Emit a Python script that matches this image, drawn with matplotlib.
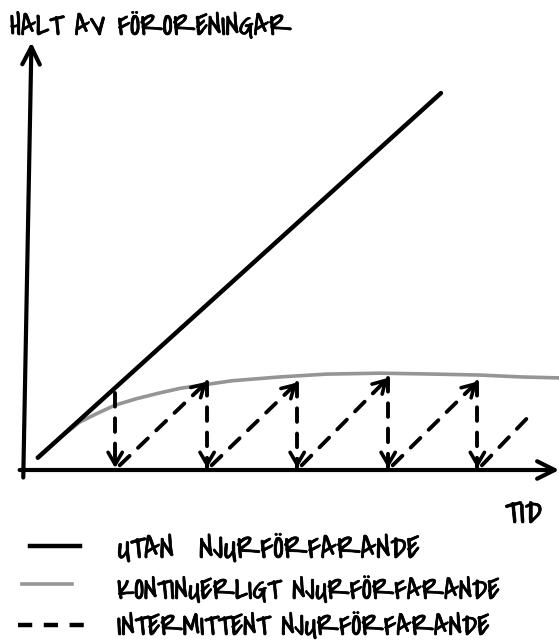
import matplotlib
matplotlib.use("Agg")
import matplotlib.pyplot as plt
from matplotlib.lines import Line2D
import matplotlib.patheffects as pe
import warnings
warnings.filterwarnings("ignore")

# ---- data (time in dosing intervals, concentration relative to plateau) ----
solid_t = [0.13, 4.56]
solid_c = [0.13, 4.01]

gray_t = [0.13, 0.37, 0.59, 0.80, 0.98, 1.22, 1.47, 1.70, 1.91, 2.27, 2.79, 3.30, 3.89, 4.50, 4.99, 5.44, 5.85]
gray_c = [0.14, 0.34, 0.51, 0.61, 0.69, 0.76, 0.82, 0.87, 0.90, 0.95, 0.99, 1.02, 1.03, 1.02, 1.01, 0.99, 0.98]

dose_t = [0.98, 1.99, 2.98, 3.98, 4.96]
peak_c = [0.82, 0.94, 0.93, 0.98, 0.94]
last_rise_end = (5.54, 0.585)

title = "HALT AV FÖRORENINGAR"
xlabel = "TID"
legend_labels = ["UTAN  NJURFÖRFARANDE",
                 "KONTINUERLIGT NJURFÖRFARANDE",
                 "INTERMITTENT NJURFÖRFARANDE"]

# ---- figure ----
W, H = 559, 644
fig = plt.figure(figsize=(W / 100, H / 100), dpi=100)
ax = fig.add_axes([0, 0, 1, 1])
ax.set_xlim(-26 / 91, (W - 26) / 91)
ax.set_ylim((470 - H) / 94, 470 / 94)
ax.axis("off")

FONT = ["Covered By Your Grace", "Roboto", "DejaVu Sans"]
GRAY = "#959595"
THICK = [pe.withStroke(linewidth=0.5, foreground="black")]

def px(x, y):
    return (x / W, 1 - y / H)

# axes (hand-drawn arrows)
axis_head = dict(arrowstyle="->,head_length=0.7,head_width=0.35",
                 lw=3, color="black", mutation_scale=18, shrinkA=0, shrinkB=0)
ax.annotate("", xy=(5.86, 0.0), xytext=(-0.07, 0.0), arrowprops=axis_head)
ax.annotate("", xy=(0.06, 4.55), xytext=(-0.03, -0.08), arrowprops=axis_head)

# without treatment
ax.plot(solid_t, solid_c, color="black", lw=3.2, solid_capstyle="round", zorder=3)

# continuous treatment
ax.plot(gray_t, gray_c, color=GRAY, lw=2.6, zorder=2)

# intermittent treatment
dash_kw = dict(color="black", lw=2.8, linestyle=(0, (3.5, 3.0)), dash_capstyle="round", zorder=4)
head_kw = dict(arrowstyle="->,head_length=0.55,head_width=0.32", lw=2.6,
               color="black", mutation_scale=16, shrinkA=0, shrinkB=0)

for i, (t, p) in enumerate(zip(dose_t, peak_c)):
    ax.plot([t, t], [p, 0.02], **dash_kw)
    ax.annotate("", xy=(t, 0.02), xytext=(t, 0.12), arrowprops=head_kw, zorder=5)
    if i + 1 < len(dose_t):
        t2, p2 = dose_t[i + 1], peak_c[i + 1]
        ax.plot([t + 0.05, t2], [0.05, p2], **dash_kw)
        dt, dc = t2 - t, p2
        ax.annotate("", xy=(t2, p2), xytext=(t2 - 0.08 * dt, p2 - 0.08 * dc),
                    arrowprops=head_kw, zorder=5)
    else:
        ax.plot([t + 0.05, last_rise_end[0]], [0.05, last_rise_end[1]], **dash_kw)

# texts, each fitted to the width it takes in the reference
fig.canvas.draw()
renderer = fig.canvas.get_renderer()

def fitted_text(x0, x1, base_y, s, fs=18):
    t = ax.text(*px(x0, base_y), s, transform=ax.transAxes, fontsize=fs,
                family=FONT, ha="left", va="baseline", path_effects=THICK)
    w = t.get_window_extent(renderer).width
    t.set_fontsize(fs * (x1 - x0) / w)
    return t

fitted_text(10, 292, 35, title)
fitted_text(505, 542, 523, xlabel)

rows_y = [546, 584, 625]
base_y = [558, 599, 635]
text_x1 = [420, 500, 490]
ax.add_line(Line2D([px(30, 0)[0], px(80, 0)[0]], [px(0, rows_y[0])[1]] * 2,
                   transform=ax.transAxes, color="black", lw=3.2))
ax.add_line(Line2D([px(22, 0)[0], px(72, 0)[0]], [px(0, rows_y[1])[1]] * 2,
                   transform=ax.transAxes, color=GRAY, lw=2.6))
ax.add_line(Line2D([px(18, 0)[0], px(84, 0)[0]], [px(0, rows_y[2])[1]] * 2,
                   transform=ax.transAxes, color="black", lw=3.2,
                   linestyle=(0, (3.2, 2.6))))
for lab, by, x1 in zip(legend_labels, base_y, text_x1):
    fitted_text(117, x1, by, lab)

fig.savefig("out.png", dpi=100, facecolor="white")
